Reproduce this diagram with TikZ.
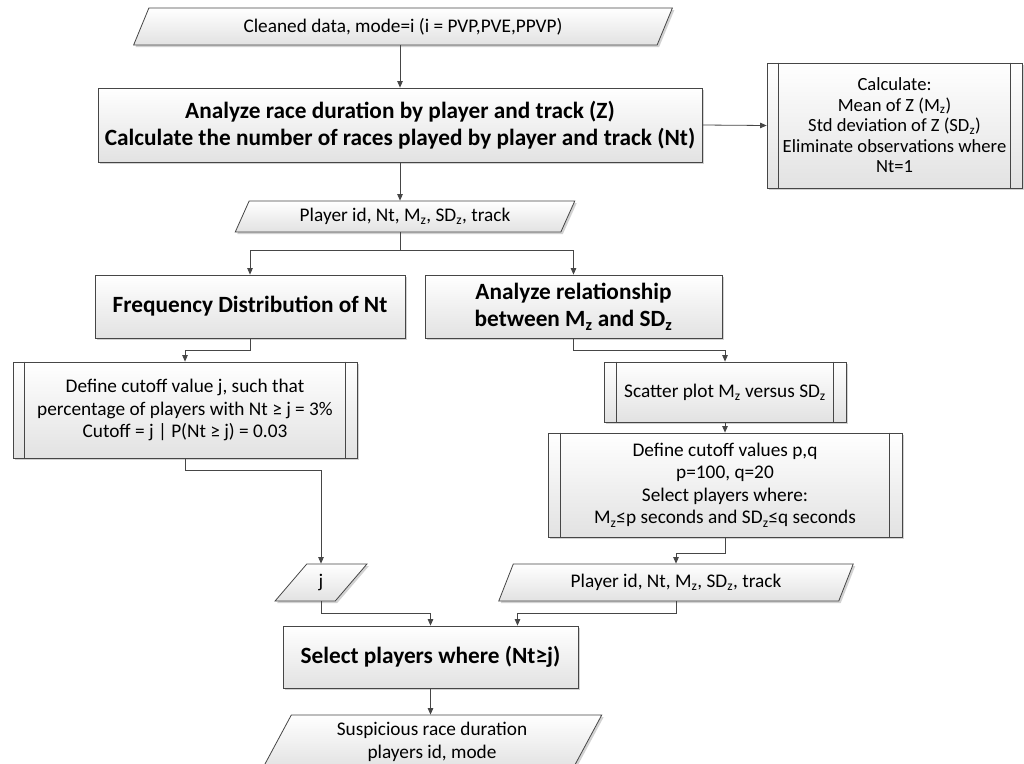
\documentclass[tikz,border=0pt]{standalone}
\usepackage{fontspec}
\setmainfont{Carlito}
\usetikzlibrary{arrows.meta,shapes.geometric,shadows}
\definecolor{linecol}{RGB}{70,70,70}
\definecolor{fillbot}{RGB}{226,226,226}
\newcommand\regtext{\fontsize{19.3}{22.5}\selectfont}
\newcommand\tighttext{\fontsize{18.6}{20.5}\selectfont}
\newcommand\boldtext{\fontsize{23.3}{27.5}\selectfont\bfseries}
\newcommand\Mzed{M\textsubscript{z}}
\newcommand\SDzed{SD\textsubscript{z}}
\begin{document}
\begin{tikzpicture}[x=1pt,y=-1pt,
  box/.style={draw=linecol, line width=0.8pt, top color=white, bottom color=fillbot,
    drop shadow={shadow xshift=2pt, shadow yshift=-2pt, fill=black!35, opacity=.5},
    align=center, inner sep=2pt, text=black},
  proc/.style={box, rectangle},
  para/.style={box, trapezium, trapezium left angle=65, trapezium right angle=115,
    trapezium stretches=true},
  edge/.style={draw=linecol, line width=0.8pt, -{Triangle[length=6.5pt,width=5.5pt]}}]
\useasboundingbox (0,0) rectangle (1024,763);
\fill[white] (0,0) rectangle (1024,763);
\clip (0,0) rectangle (1024,763);

% process steps
\node[para, minimum width=540pt, minimum height=37pt, font=\regtext] (p1) at (403,26.5)
  {Cleaned data, mode=i (i = PVP,PVE,PPVP)};
\node[proc, minimum width=604pt, minimum height=74pt, font=\boldtext] (main) at (400,125)
  {Analyze race duration by player and track (Z)\\Calculate the number of races played by player and track (Nt)};
\node[proc, minimum width=255pt, minimum height=125pt, font=\tighttext] (calc) at (894.5,125.5)
  {Calculate:\\Mean of Z (\Mzed)\\Std deviation of Z (\SDzed)\\Eliminate observations where\\Nt=1};
\node[para, minimum width=340pt, minimum height=31pt, font=\regtext] (p2) at (405,216.5)
  {Player id, Nt, \Mzed, \SDzed, track};
\node[proc, minimum width=310pt, minimum height=63pt, font=\boldtext] (b1) at (250,306.5)
  {Frequency Distribution of Nt};
\node[proc, minimum width=297pt, minimum height=63pt, font=\boldtext] (b2) at (573.5,306.5)
  {Analyze relationship\\between \Mzed{} and \SDzed};
\node[proc, minimum width=344pt, minimum height=96pt, font=\regtext] (pd1) at (185,410)
  {Define cutoff value j, such that\\percentage of players with Nt ≥ j = 3\%\\Cutoff = j | P(Nt ≥ j) = 0.03};
\node[proc, minimum width=242pt, minimum height=60pt, font=\regtext] (sc) at (725,392)
  {Scatter plot \Mzed{} versus \SDzed};
\node[proc, minimum width=354pt, minimum height=104pt, font=\regtext] (pd2) at (725,485)
  {Define cutoff values p,q\\p=100, q=20\\Select players where:\\\Mzed{}≤p seconds and \SDzed{}≤q seconds};
\node[para, minimum width=355pt, minimum height=37pt, font=\regtext] (p3) at (676,582.5)
  {Player id, Nt, \Mzed, \SDzed, track};
\node[para, minimum width=92pt, minimum height=37pt, font=\regtext] (p5) at (321,582.5) {j};
\node[proc, minimum width=295pt, minimum height=62pt, font=\boldtext] (b3) at (430.5,657)
  {Select players where (Nt≥j)};
\node[para, minimum width=340pt, minimum height=54pt, font=\regtext] (p4) at (432,742)
  {Suspicious race duration\\players id, mode};

% side bars of the predefined-process boxes
\foreach \n/\d in {calc/12, pd1/12, sc/13, pd2/13} {
  \draw[linecol, line width=0.8pt] ([xshift=\d pt]\n.north west) -- ([xshift=\d pt]\n.south west);
  \draw[linecol, line width=0.8pt] ([xshift=-\d pt]\n.north east) -- ([xshift=-\d pt]\n.south east);
}

% connectors
\draw[edge] (main.north |- p1.south) -- (main.north);
\draw[edge] (main.east) -- (calc.west);
\draw[edge] (main.south) -- (main.south |- p2.north);
\draw[edge] (main.south |- p2.south) -- ++(0,18) -| (b1.north);
\draw[edge] (main.south |- p2.south) -- ++(0,18) -| (b2.north);
\draw[edge] (b1.south) -- ++(0,12) -| (pd1.north);
\draw[edge] (b2.south) -- ++(0,12) -| (sc.north);
\draw[edge] (sc.south) -- (pd2.north);
\draw[edge] (pd1.south) -- ++(0,12) -| (p5.center |- p5.north);
\draw[edge] (pd2.south) -- ++(0,16) -| (p3.center |- p3.north);
\draw[edge] (p5.center |- p5.south) -- ++(0,12) -| (b3.north);
\draw[edge] (p3.center |- p3.south) -- ++(0,12) -| ([xshift=87pt]b3.north);
\draw[edge] (b3.south) -- (b3.south |- p4.north);
\end{tikzpicture}
\end{document}
